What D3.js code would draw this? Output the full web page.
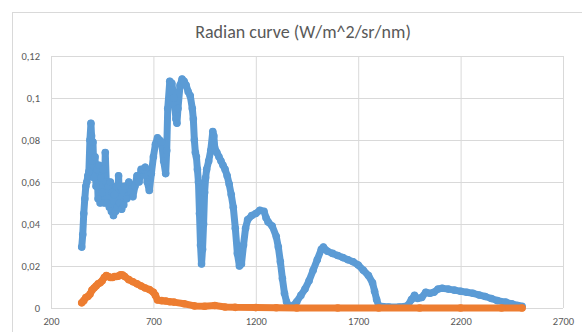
<!DOCTYPE html>
<html>
<head>
<meta charset="utf-8">
<script src="https://cdn.jsdelivr.net/npm/d3@7"></script>
<style>
  body { margin: 0; background: #fff; }
  svg text { font-family: Calibri, Carlito, "Open Sans", sans-serif; fill: #595959; }
</style>
</head>
<body>
<div id="chart"></div>
<script>
// radiance readings, wavelength (nm) vs W/m^2/sr/nm
const blueWl = [350, 355, 360, 365, 370, 375, 380, 385, 390, 395, 398, 400, 405, 410, 415, 420, 425, 430, 435, 440, 445, 450, 455, 460, 465, 470, 475, 480, 485, 490, 495, 500, 505, 510, 515, 520, 525, 530, 535, 540, 545, 550, 555, 560, 570, 580, 590, 600, 610, 620, 630, 640, 650, 660, 670, 680, 690, 700, 710, 720, 730, 740, 750, 760, 765, 770, 780, 790, 800, 810, 815, 820, 830, 840, 850, 860, 870, 880, 890, 895, 900, 905, 910, 915, 920, 925, 930, 935, 940, 945, 950, 955, 960, 970, 980, 990, 995, 1000, 1010, 1020, 1030, 1040, 1050, 1060, 1070, 1080, 1090, 1100, 1110, 1120, 1130, 1140, 1150, 1160, 1180, 1200, 1220, 1240, 1250, 1260, 1280, 1300, 1310, 1320, 1330, 1340, 1350, 1360, 1380, 1400, 1420, 1440, 1460, 1480, 1500, 1520, 1530, 1550, 1575, 1600, 1625, 1650, 1675, 1700, 1725, 1750, 1770, 1780, 1790, 1800, 1850, 1900, 1940, 1960, 1975, 1990, 2010, 2030, 2050, 2070, 2090, 2110, 2140, 2170, 2200, 2230, 2260, 2290, 2320, 2350, 2380, 2420, 2450, 2480, 2500];
const blueVal = [0.029, 0.035, 0.045, 0.052, 0.058, 0.06, 0.063, 0.065, 0.08, 0.088, 0.082, 0.07, 0.079, 0.062, 0.072, 0.058, 0.066, 0.052, 0.068, 0.05, 0.062, 0.055, 0.066, 0.05, 0.074, 0.06, 0.05, 0.058, 0.048, 0.06, 0.046, 0.055, 0.044, 0.054, 0.046, 0.058, 0.048, 0.063, 0.05, 0.058, 0.047, 0.056, 0.049, 0.058, 0.052, 0.06, 0.055, 0.053, 0.058, 0.063, 0.06, 0.066, 0.066, 0.067, 0.06, 0.056, 0.064, 0.072, 0.078, 0.081, 0.08, 0.079, 0.07, 0.064, 0.075, 0.095, 0.108, 0.107, 0.1, 0.09, 0.088, 0.095, 0.106, 0.109, 0.108, 0.106, 0.103, 0.101, 0.095, 0.09, 0.08, 0.074, 0.072, 0.066, 0.06, 0.045, 0.03, 0.021, 0.028, 0.04, 0.055, 0.062, 0.066, 0.07, 0.075, 0.084, 0.082, 0.076, 0.074, 0.072, 0.07, 0.068, 0.066, 0.063, 0.059, 0.054, 0.048, 0.038, 0.026, 0.02, 0.021, 0.03, 0.038, 0.042, 0.044, 0.045, 0.0465, 0.046, 0.043, 0.041, 0.039, 0.034, 0.029, 0.022, 0.014, 0.007, 0.003, 0.001, 0.001, 0.003, 0.006, 0.009, 0.013, 0.018, 0.023, 0.028, 0.029, 0.027, 0.026, 0.025, 0.024, 0.023, 0.022, 0.0205, 0.018, 0.0155, 0.012, 0.008, 0.004, 0.001, 0.0005, 0.0005, 0.001, 0.004, 0.006, 0.0045, 0.005, 0.0075, 0.007, 0.0075, 0.009, 0.0094, 0.009, 0.0085, 0.008, 0.0075, 0.007, 0.0062, 0.0055, 0.0045, 0.0035, 0.0028, 0.002, 0.0012, 0.0008];

const orangeWl = [350, 360, 370, 380, 390, 400, 410, 420, 430, 440, 450, 460, 470, 480, 490, 500, 510, 520, 530, 540, 550, 560, 580, 600, 620, 640, 660, 680, 700, 710, 720, 740, 760, 780, 800, 850, 900, 950, 1000, 1050, 1100, 1200, 1300, 1400, 1600, 1800, 2000, 2200, 2400, 2500];
const orangeVal = [0.0025, 0.0035, 0.005, 0.0055, 0.0065, 0.0085, 0.0095, 0.0105, 0.0115, 0.012, 0.013, 0.0145, 0.0155, 0.015, 0.0145, 0.0145, 0.015, 0.015, 0.0152, 0.0158, 0.0157, 0.015, 0.0135, 0.0125, 0.0115, 0.0105, 0.0095, 0.0088, 0.0075, 0.006, 0.0038, 0.0035, 0.0033, 0.003, 0.0028, 0.002, 0.001, 0.0008, 0.0012, 0.0005, 0.0003, 0.0002, 0.0001, 0, 0, 0, 0, 0, 0, 0];

const xTicks = [200, 700, 1200, 1700, 2200, 2700];
const yTicks = [0, 0.02, 0.04, 0.06, 0.08, 0.1, 0.12];

const width = 582, height = 332;
const margin = { top: 56, right: 19, bottom: 24, left: 51 };
const innerW = width - margin.left - margin.right;
const innerH = height - margin.top - margin.bottom;

const svg = d3.select('#chart').append('svg')
  .attr('width', width)
  .attr('height', height);

// chart area border
svg.append('rect')
  .attr('x', 12.5).attr('y', 12.5)
  .attr('width', 600).attr('height', 340)
  .attr('fill', 'none')
  .attr('stroke', '#d9d9d9');

svg.append('text')
  .attr('x', 303)
  .attr('y', 38)
  .attr('text-anchor', 'middle')
  .style('font-size', '18px')
  .text('Radian curve (W/m^2/sr/nm)');

const chart = svg.append('g')
  .attr('transform', `translate(${margin.left},${margin.top})`);

const xScale = d3.scaleLinear().domain([200, 2700]).range([0, innerW]);
const yScale = d3.scaleLinear().domain([0, 0.12]).range([innerH, 0]);

const fmt = d => d3.format('~g')(d).replace('.', ',');

// gridlines
chart.append('g')
  .call(d3.axisLeft(yScale).tickValues(yTicks).tickSize(-innerW).tickFormat(fmt))
  .call(g => g.select('.domain').remove())
  .call(g => g.selectAll('line').attr('stroke', '#d9d9d9'))
  .call(g => g.selectAll('text').attr('x', -11).style('font-size', '10.5px').attr('fill', '#595959'));

chart.append('g')
  .attr('transform', `translate(0,${innerH})`)
  .call(d3.axisBottom(xScale).tickValues(xTicks).tickSize(-innerH).tickFormat(d3.format('d')))
  .call(g => g.select('.domain').remove())
  .call(g => g.selectAll('line').attr('stroke', '#d9d9d9'))
  .call(g => g.selectAll('text').attr('y', 10).style('font-size', '10.5px').attr('fill', '#595959'));

function drawSeries(wl, val, color) {
  const pts = wl.map((w, i) => ({ x: w, y: val[i] }));
  const line = d3.line().x(d => xScale(d.x)).y(d => yScale(d.y));
  chart.append('path')
    .datum(pts)
    .attr('d', line)
    .attr('fill', 'none')
    .attr('stroke', color)
    .attr('stroke-width', 7)
    .attr('stroke-linejoin', 'round')
    .attr('stroke-linecap', 'round');
  chart.append('g').selectAll('circle')
    .data(pts)
    .enter().append('circle')
    .attr('cx', d => xScale(d.x))
    .attr('cy', d => yScale(d.y))
    .attr('r', 3.8)
    .attr('fill', color);
}

drawSeries(blueWl, blueVal, '#5b9bd5');
drawSeries(orangeWl, orangeVal, '#ed7d31');
</script>
</body>
</html>
